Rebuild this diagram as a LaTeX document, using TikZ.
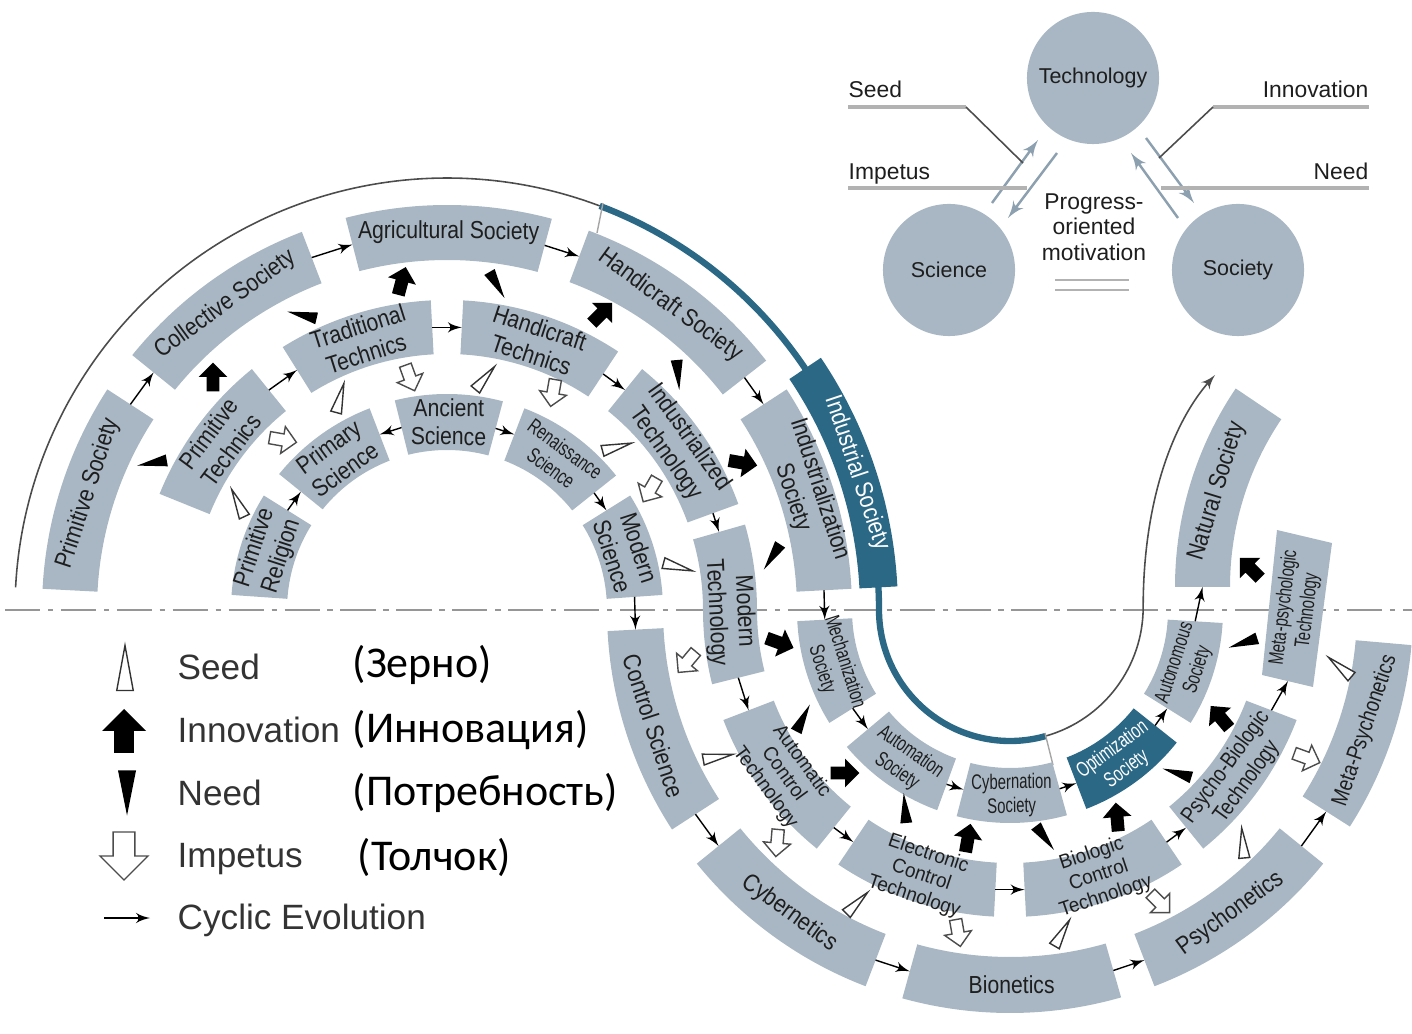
\documentclass[tikz,border=0pt]{standalone}
\usepackage{fontspec}
\setmainfont{Liberation Sans}
\newfontfamily\rufont{Carlito}
\usetikzlibrary{calc, arrows}
\definecolor{blk}{RGB}{168,183,195}
\definecolor{ind}{RGB}{42,104,134}
\definecolor{arw}{RGB}{140,160,176}
\definecolor{txtc}{RGB}{30,30,30}
\definecolor{dashc}{RGB}{150,150,150}
\tikzstyle{txt}   = [font=\fontsize{7}{8}\selectfont, align=center, text=txtc, inner sep=0pt, xscale=0.86, transform shape]
\tikzstyle{ttxt}  = [txt, font=\fontsize{5.7}{6.4}\selectfont, xscale=1.1]
\tikzstyle{mtxt}  = [txt, font=\fontsize{6.5}{7.3}\selectfont, xscale=0.95]
\tikzstyle{stxt}  = [txt, font=\fontsize{6}{6.8}\selectfont, xscale=0.82]
\tikzstyle{wtxt}  = [txt, text=white]
\tikzstyle{swtxt} = [stxt, text=white]
\tikzstyle{cyc}   = [draw, thin, -latex']
\tikzstyle{tri}   = [draw=arw, line width=0.7pt, -latex']
\tikzstyle{lgray} = [draw=black!30, line width=0.9pt]
\tikzstyle{circ}  = [circle, fill=blk, minimum size=1.32cm, inner sep=0pt, font=\fontsize{6.1}{7}\selectfont, text=txtc]
\tikzstyle{lab}   = [font=\fontsize{6.5}{7.3}\selectfont, text=txtc, inner sep=0pt]
\tikzstyle{leg}   = [font=\fontsize{10}{12}\selectfont, text=black!80, inner sep=0pt, anchor=base west]
\tikzstyle{rus}   = [font=\rufont\fontsize{12.5}{15}\selectfont, inner sep=0pt, anchor=base west]

% block: name, centre, inner r, outer r, start angle, end angle, fill
\newcommand{\ringpart}[7]{%
  \fill[#7] ($(#2)+(#5:#3)$) arc[start angle=#5, end angle=#6, radius=#3]
    -- ($(#2)+(#6:#4)$) arc[start angle=#6, end angle=#5, radius=#4] -- cycle;
  \coordinate (#1-a) at ($(#2)+(#5:{(#3+#4)/2})$);
  \coordinate (#1-b) at ($(#2)+(#6:{(#3+#4)/2})$);
  \coordinate (#1-c) at ($(#2)+({(#5+#6)/2}:{(#3+#4)/2})$);}
\newcommand{\ublk}[8]{\ringpart{#1}{U}{#2}{#3}{#4}{#5}{#6}
  \node[rotate={(#4+#5)/2-90}, #7] (#1) at (#1-c) {#8};}
\newcommand{\lblk}[8]{\ringpart{#1}{L}{#2}{#3}{#4}{#5}{#6}
  \node[rotate={(#4+#5)/2+90}, #7] (#1) at (#1-c) {#8};}

% markers: [scale] x, y, direction
\newcommand{\mkseed}[4][1]{\draw[black!80, fill=white, line width=0.4pt, shift={(#2,-#3)}, rotate=#4, scale=#1] (-15,-5.5) -- (15,0) -- (-15,5.5) -- cycle;}
\newcommand{\mkneed}[4][1]{\fill[black, shift={(#2,-#3)}, rotate=#4, scale=#1] (-15,-6) -- (15,0) -- (-15,6) -- cycle;}
\newcommand{\mkinno}[4][0.72]{\fill[black, shift={(#2,-#3)}, rotate=#4, scale=#1] (-20,-9) -- (0,-9) -- (0,-20) -- (20,0) -- (0,20) -- (0,9) -- (-20,9) -- cycle;}
\newcommand{\mkimp}[4][0.68]{\draw[black!70, fill=white, line width=0.4pt, shift={(#2,-#3)}, rotate=#4, scale=#1] (-20,-9) -- (0,-9) -- (0,-20) -- (20,0) -- (0,20) -- (0,9) -- (-20,9) -- cycle;}

\begin{document}
\begin{tikzpicture}[x=0.01cm, y=0.01cm]
\useasboundingbox (0,0) rectangle (1412,-1034);

\coordinate (U) at (447,-610);
\coordinate (L) at (1010,-610);
\coordinate (N) at (1530,-587);

% axis and spiral
\draw[dashc, line width=0.7pt, dash pattern=on 10pt off 2.2pt on 1.5pt off 2.2pt] (5,-610) -- (1412,-610);
\draw[black!70, line width=0.45pt] ($(U)+(177:432)$) arc[start angle=177, end angle=69.3, radius=432];
\draw[ind, line width=1.8pt] ($(U)+(69.3:432)$) arc[start angle=69.3, end angle=0, radius=432]
                                               arc[start angle=180, end angle=286, radius=131];
\draw[black!70, line width=0.45pt, -latex'] ($(L)+(286:131)$) arc[start angle=286, end angle=360, radius=134]
      .. controls +(0,110) and (1175,-420) .. (1215,-375);
\draw[black!35, line width=0.4pt] (603,-203) -- (597,-233);
\draw[black!35, line width=0.4pt] (1045,-733) -- (1053,-765);

% upper blocks
\ublk{psoc}{350}{405}{177}{147}{blk}{txt}{Primitive Society}
\ublk{csoc}{350}{405}{141}{111}{blk}{txt}{Collective Society}
\ublk{asoc}{350}{405}{104.5}{75}{blk}{txt}{Agricultural Society}
\ublk{hsoc}{350}{405}{69.5}{38}{blk}{txt}{Handicraft Society}
\ublk{isoc}{350}{405}{33}{3}{blk}{txt}{Industrialization\\Society}
\ublk{indsoc}{413}{451}{34}{3}{ind}{wtxt}{Industrial Society}
\ublk{ptec}{256}{310}{158}{129}{blk}{txt}{Primitive\\Technics}
\ublk{ttec}{256}{310}{122}{93}{blk}{txt}{Traditional\\Technics}
\ublk{htec}{256}{310}{87}{56.5}{blk}{txt}{Handicraft\\Technics}
\ublk{itec}{256}{310}{51}{20}{blk}{txt}{Industrialized\\Technology}
\ublk{prel}{160}{216}{176}{148}{blk}{txt}{Primitive\\Religion}
\ublk{psci}{160}{216}{141}{111}{blk}{txt}{Primary\\Science}
\ublk{asci}{160}{216}{104}{75}{blk}{txt}{Ancient\\Science}
\ublk{rsci}{160}{216}{69}{38.5}{blk}{stxt}{Renaissance\\Science}
\ublk{msci}{160}{216}{32}{4}{blk}{txt}{Modern\\Science}

% crossing block
\ringpart{mtecu}{U}{256}{310}{16}{0}{blk}
\ringpart{mtecl}{L}{253}{307}{180}{194}{blk}
\node[rotate=-87, txt] (mtec) at (730,-612) {Modern\\Technology};

% lower blocks
\lblk{csci}{347}{403}{183}{213}{blk}{txt}{Control Science}
\lblk{cyb}{347}{403}{219}{249}{blk}{txt}{Cybernetics}
\lblk{bion}{347}{403}{254.5}{286}{blk}{txt}{Bionetics}
\lblk{psyc}{347}{403}{291}{321}{blk}{txt}{Psychonetics}
\lblk{mpsy}{347}{403}{327.5}{355}{blk}{mtxt}{Meta-Psychonetics}
\lblk{actec}{253}{307}{201}{231}{blk}{ttxt}{Automatic\\Control\\Technology}
\lblk{ectec}{253}{307}{236}{267}{blk}{ttxt}{Electronic\\Control\\Technology}
\lblk{bctec}{253}{307}{273}{304}{blk}{ttxt}{Biologic\\Control\\Technology}
\lblk{pbtec}{253}{307}{309}{339}{blk}{mtxt}{Psycho-Biologic\\Technology}
\lblk{mech}{158}{213}{183}{212}{blk}{stxt}{Mechanization\\Society}
\lblk{auto}{158}{213}{220}{250}{blk}{stxt}{Automation\\Society}
\lblk{cybs}{158}{213}{255.5}{285.5}{blk}{stxt}{Cybernation\\Society}
\lblk{opts}{158}{213}{291}{321.5}{ind}{swtxt}{Optimization\\Society}
\lblk{auts}{158}{213}{328}{356.5}{blk}{stxt}{Autonomous\\Society}
\ringpart{nsoc}{N}{300}{355}{180}{146}{blk}
\node[rotate=73, txt] (nsoc) at (nsoc-c) {Natural Society};
\fill[blk] (1277,-530) -- (1332,-543) -- (1313,-687) -- (1262,-675) -- cycle;
\coordinate (mptec-a) at (1288,-681);
\node[rotate=83, stxt] (mptec) at (1296,-609) {Meta-psychologic\\Technology};

% cyclic evolution
\path[cyc] (psoc-b) -- (csoc-a);
\path[cyc] (csoc-b) -- (asoc-a);
\path[cyc] (asoc-b) -- (hsoc-a);
\path[cyc] (hsoc-b) -- (isoc-a);
\path[cyc] (isoc-b) -- (mech-a);
\path[cyc] (mech-b) -- (auto-a);
\path[cyc] (auto-b) -- (cybs-a);
\path[cyc] (cybs-b) -- (opts-a);
\path[cyc] (opts-b) -- (auts-a);
\path[cyc] (auts-b) -- (nsoc-a);
\path[cyc] (ptec-b) -- (ttec-a);
\path[cyc] (ttec-b) -- (htec-a);
\path[cyc] (htec-b) -- (itec-a);
\path[cyc] (itec-b) -- (mtecu-a);
\path[cyc] (mtecl-b) -- (actec-a);
\path[cyc] (actec-b) -- (ectec-a);
\path[cyc] (ectec-b) -- (bctec-a);
\path[cyc] (bctec-b) -- (pbtec-a);
\path[cyc] (pbtec-b) -- (mptec-a);
\path[cyc] (prel-b) -- (psci-a);
\path[cyc] (asci-a) -- (psci-b);
\path[cyc] (asci-b) -- (rsci-a);
\path[cyc] (rsci-b) -- (msci-a);
\path[cyc] (msci-b) -- (csci-a);
\path[cyc] (csci-b) -- (cyb-a);
\path[cyc] (cyb-b) -- (bion-a);
\path[cyc] (bion-b) -- (psyc-a);
\path[cyc] (psyc-b) -- (mpsy-a);

% seed
\mkseed{238}{503}{115}
\mkseed{340}{398}{75}
\mkseed{485}{378}{50}
\mkseed{617}{447}{15}
\mkseed{678}{567}{-15}
\mkseed{718}{757}{10}
\mkseed{857}{903}{45}
\mkseed{1062}{933}{60}
\mkseed{1243}{843}{95}
\mkseed{1340}{667}{140}
% impetus
\mkimp{283}{440}{-10}
\mkimp{410}{378}{-70}
\mkimp{553}{393}{-100}
\mkimp{650}{490}{-120}
\mkimp{687}{662}{-130}
\mkimp{777}{843}{-95}
\mkimp{958}{933}{-80}
\mkimp{1160}{903}{-45}
\mkimp{1307}{758}{-20}
% innovation
\mkinno{213}{377}{90}
\mkinno{402}{281}{75}
\mkinno{602}{313}{45}
\mkinno{743}{463}{-10}
\mkinno{780}{643}{-20}
\mkinno{845}{773}{0}
\mkinno{968}{838}{80}
\mkinno{1117}{817}{95}
\mkinno{1220}{717}{130}
\mkinno{1250}{568}{135}
% need
\mkneed{152}{463}{190}
\mkneed{302}{315}{167}
\mkneed{497}{285}{-60}
\mkneed{678}{375}{-85}
\mkneed{772}{557}{-123}
\mkneed{803}{718}{63}
\mkneed{905}{808}{95}
\mkneed{1045}{838}{-53}
\mkneed{1177}{773}{163}
\mkneed{1243}{643}{198}

% triangle of motivation
\node[circ] (tech) at (1093,-78)  {Technology};
\node[circ] (sci)  at (949,-270)  {Science};
\node[circ] (soc)  at (1238,-270) {Society};
\node[lab, align=center] (prog) at (1094,-227) {Progress-\\oriented\\motivation};
\draw[lgray, line width=0.6pt] (1055,-280) -- (1129,-280) (1055,-290) -- (1129,-290);

\coordinate (st0) at (992,-203);  \coordinate (st1) at (1038,-140);
\coordinate (ts0) at (1057,-153); \coordinate (ts1) at (1008,-218);
\coordinate (to0) at (1146,-138); \coordinate (to1) at (1194,-203);
\coordinate (ot0) at (1178,-218); \coordinate (ot1) at (1131,-153);
\path[tri] (st0) -- (st1);
\path[tri] (ts0) -- (ts1);
\path[tri] (to0) -- (to1);
\path[tri] (ot0) -- (ot1);

\node[lab, anchor=base west] (seedl) at (848,-98)  {Seed};
\node[lab, anchor=base west] (impl)  at (848,-180) {Impetus};
\node[lab, anchor=base east] (innl)  at (1369,-98)  {Innovation};
\node[lab, anchor=base east] (needl) at (1369,-180) {Need};
\draw[lgray] (848,-107) -- (966,-107);
\draw[lgray] (848,-188) -- (1027,-188);
\draw[lgray] (1213,-107) -- (1369,-107);
\draw[lgray] (1161,-188) -- (1369,-188);
\draw[black!70, line width=0.45pt] (966,-107) -- (1023,-163);
\draw[black!70, line width=0.45pt] (1213,-107) -- (1159,-158);

% legend
\mkseed[1.5]{125}{668}{90}
\mkinno[1.1]{124}{731}{90}
\mkneed[1.5]{127}{793}{-90}
\mkimp[1.2]{124}{856}{-90}
\coordinate (cy0) at (104,-918);
\coordinate (cy1) at (150,-918);
\path[cyc] (cy0) -- (cy1);
\node[leg] (lseed) at (177,-680) {Seed};
\node[leg] (linno) at (177,-743) {Innovation};
\node[leg] (lneed) at (177,-805) {Need};
\node[leg] (limp)  at (177,-867) {Impetus};
\node[leg] (lcyc)  at (177,-929) {Cyclic Evolution};
\node[rus] (rseed) at (352,-678) {(Зерно)};
\node[rus] (rinno) at (352,-742) {(Инновация)};
\node[rus] (rneed) at (352,-805) {(Потребность)};
\node[rus] (rimp)  at (357,-870) {(Толчок)};

\end{tikzpicture}
\end{document}
